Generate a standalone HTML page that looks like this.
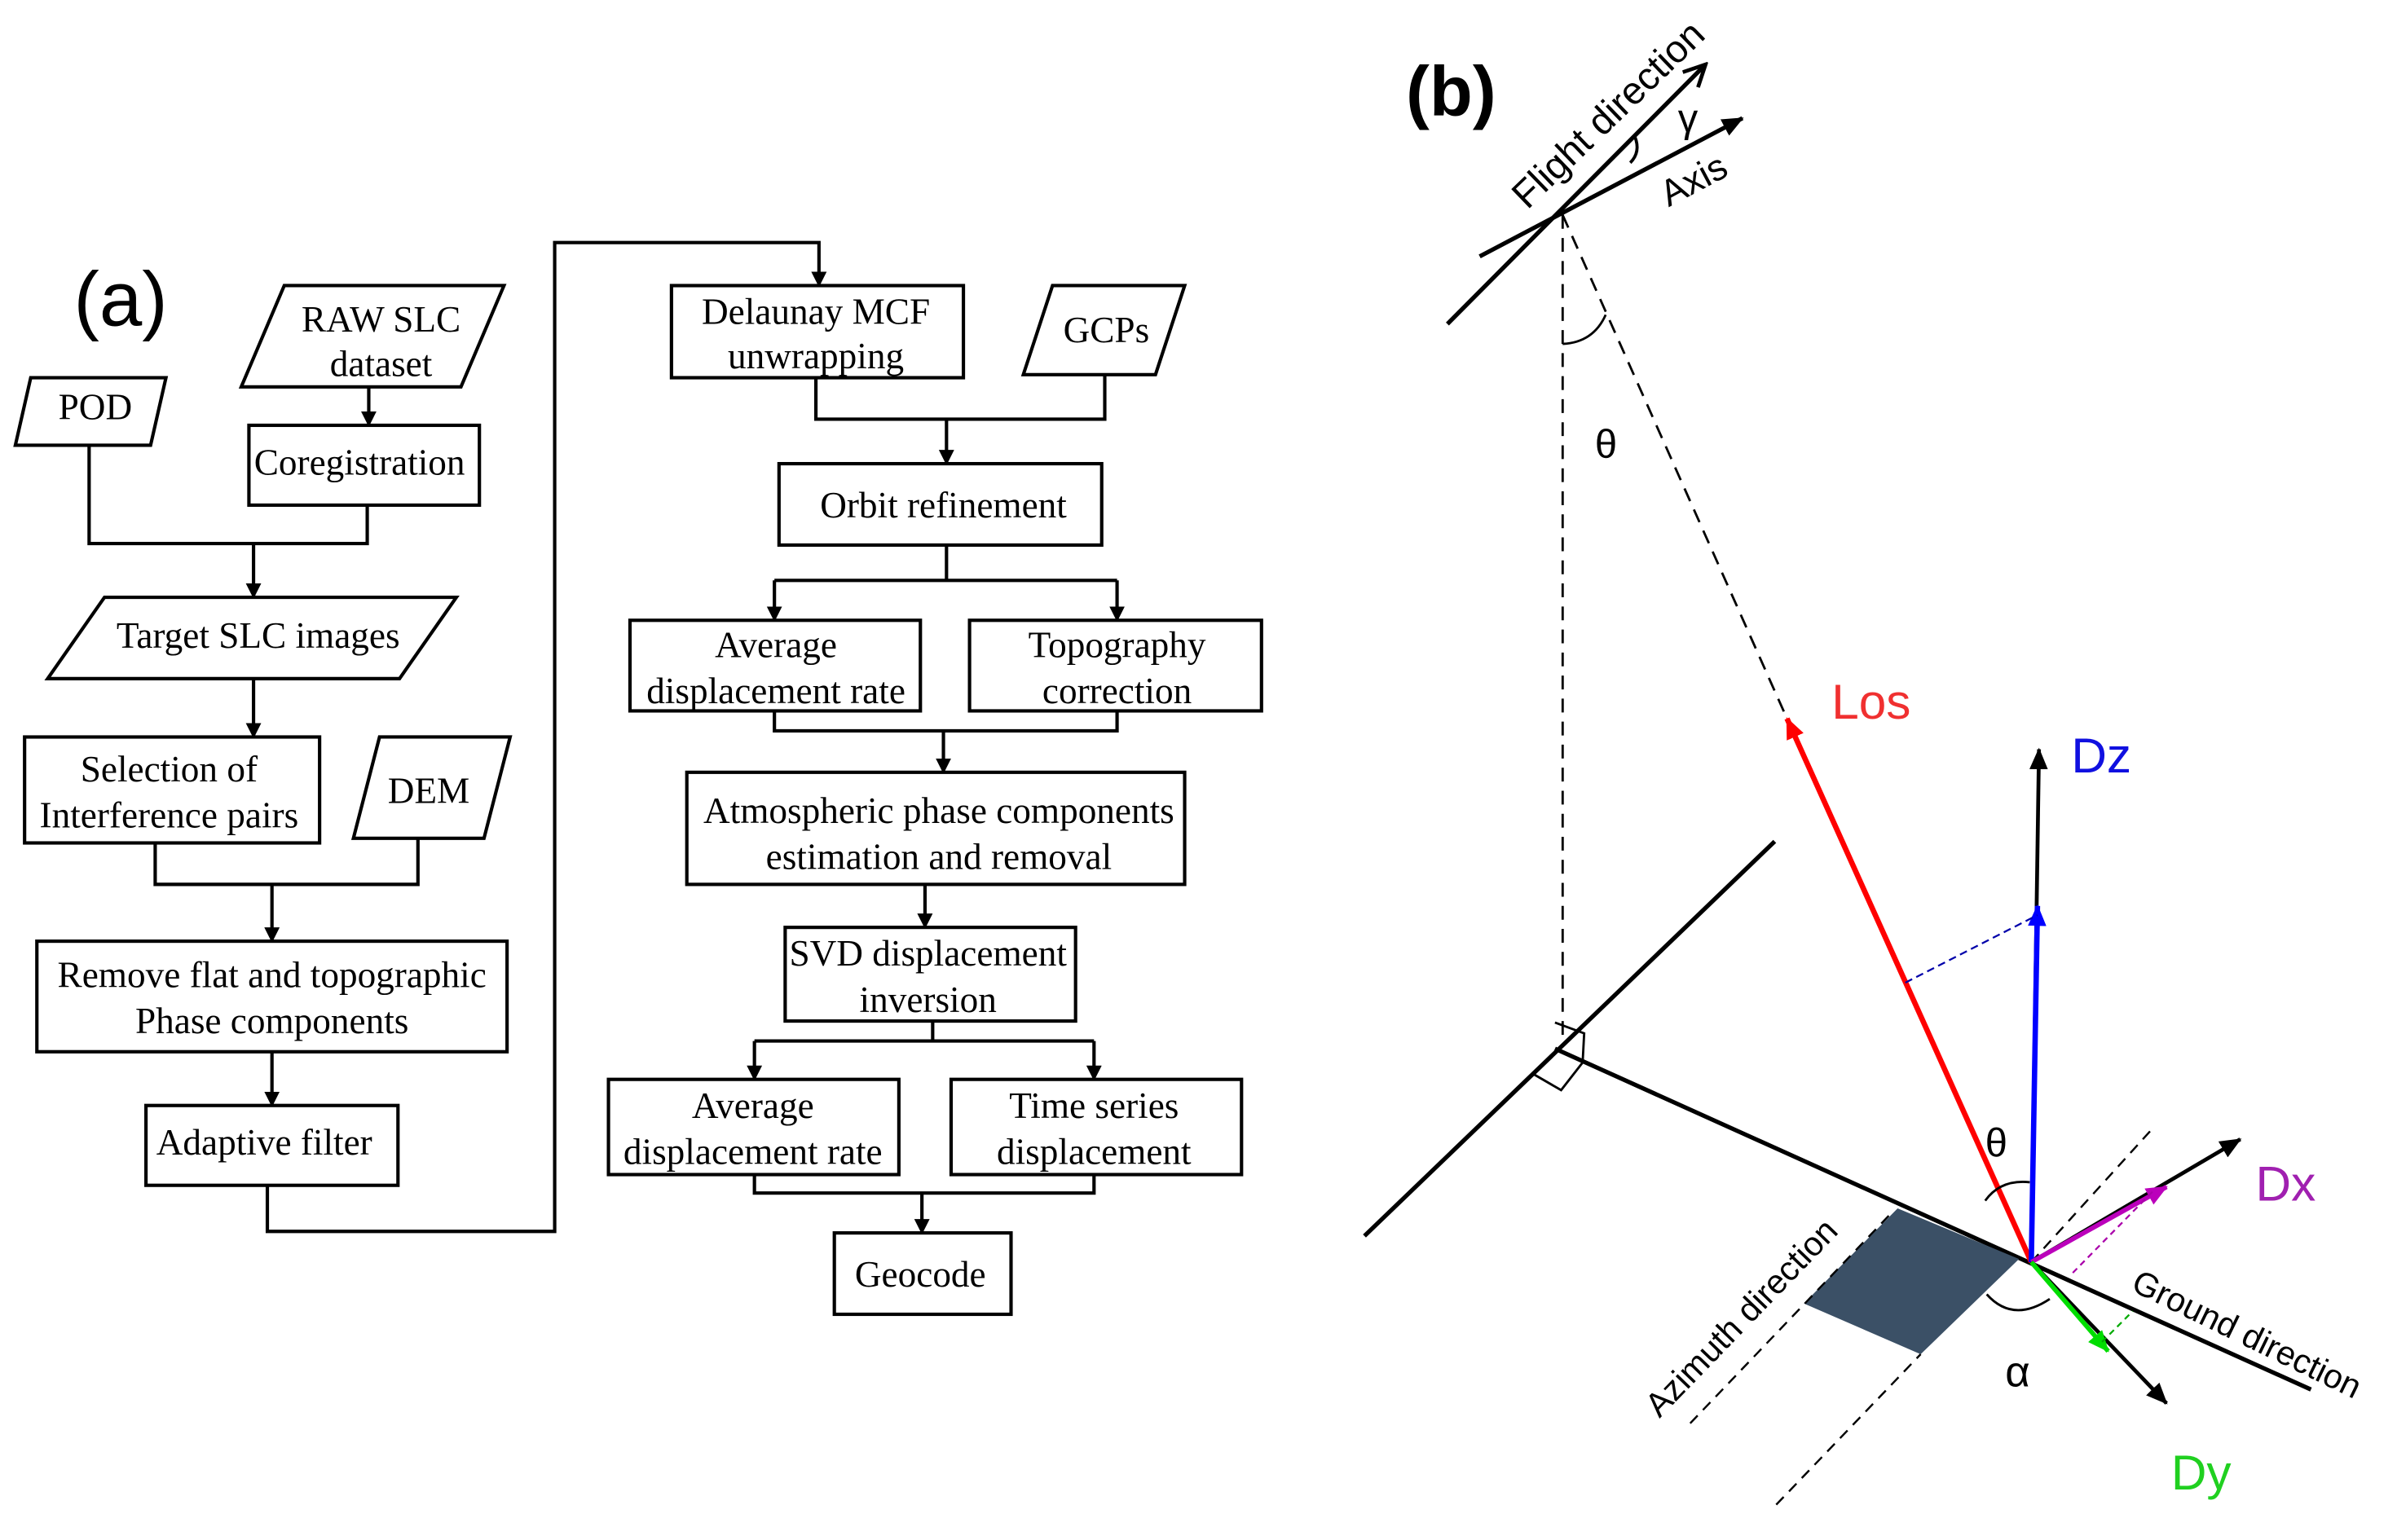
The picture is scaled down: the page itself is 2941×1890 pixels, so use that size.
<!DOCTYPE html>
<html><head><meta charset="utf-8"><style>
html,body{margin:0;padding:0;background:#fff;}
svg{display:block;}
.fc rect,.fc polygon{fill:none;stroke:#000;stroke-width:2.2;}
.fc text{font-family:"Liberation Serif",serif;font-size:24px;text-anchor:middle;fill:#000;}
.ln{fill:none;stroke:#000;stroke-width:2.2;}
.sans{font-family:"Liberation Sans",sans-serif;}
</style></head><body>
<svg width="2941" height="1890" viewBox="0 0 1560 1003" preserveAspectRatio="none" xmlns="http://www.w3.org/2000/svg">
<defs>
<marker id="ah" markerWidth="10" markerHeight="10" refX="9" refY="5" orient="auto" markerUnits="userSpaceOnUse"><path d="M0,0 L10,5 L0,10 Z" fill="#000"/></marker>
<marker id="ab" markerWidth="14" markerHeight="12" refX="13" refY="6" orient="auto" markerUnits="userSpaceOnUse"><path d="M0,0 L14,6 L0,12 Z" fill="#000"/></marker>
<marker id="ao" markerWidth="18" markerHeight="16" refX="16" refY="8" orient="auto" markerUnits="userSpaceOnUse"><path d="M2,1 L16,8 L2,15" fill="none" stroke="#000" stroke-width="2.5"/></marker>
<marker id="ar" markerWidth="14" markerHeight="12" refX="13" refY="6" orient="auto" markerUnits="userSpaceOnUse"><path d="M0,0 L14,6 L0,12 Z" fill="#f00"/></marker>
<marker id="abl" markerWidth="14" markerHeight="12" refX="13" refY="6" orient="auto" markerUnits="userSpaceOnUse"><path d="M0,0 L14,6 L0,12 Z" fill="#00f"/></marker>
<marker id="ap" markerWidth="14" markerHeight="12" refX="13" refY="6" orient="auto" markerUnits="userSpaceOnUse"><path d="M0,0 L14,6 L0,12 Z" fill="#b0b"/></marker>
<marker id="ag" markerWidth="14" markerHeight="12" refX="13" refY="6" orient="auto" markerUnits="userSpaceOnUse"><path d="M0,0 L14,6 L0,12 Z" fill="#0d0"/></marker>
</defs>

<!-- (a) flowchart -->
<text x="48" y="212" class="sans" font-size="50">(a)</text>
<g class="fc">
<polygon points="157,252 185,186 328,186 300,252"/>
<text x="248" y="216">RAW SLC</text><text x="248" y="245">dataset</text>
<polygon points="10,290 20,246 108,246 98,290"/>
<text x="62" y="273">POD</text>
<rect x="162" y="277" width="150" height="52"/>
<text x="234" y="309">Coregistration</text>
<polygon points="31,442 68,389 297,389 260,442"/>
<text x="168" y="422">Target SLC images</text>
<rect x="16" y="480" width="192" height="69"/>
<text x="110" y="509">Selection of</text><text x="110" y="539">Interference pairs</text>
<polygon points="230,546 247,480 332,480 315,546"/>
<text x="279" y="523">DEM</text>
<rect x="24" y="613" width="306" height="72"/>
<text x="177" y="643">Remove flat and topographic</text><text x="177" y="673">Phase components</text>
<rect x="95" y="720" width="164" height="52"/>
<text x="172" y="752">Adaptive filter</text>
<rect x="437" y="186" width="190" height="60"/>
<text x="531" y="211">Delaunay MCF</text><text x="531" y="240">unwrapping</text>
<polygon points="666,244 685,186 771,186 752,244"/>
<text x="720" y="223">GCPs</text>
<rect x="507" y="302" width="210" height="53"/>
<text x="614" y="337">Orbit refinement</text>
<rect x="410" y="404" width="189" height="59"/>
<text x="505" y="428">Average</text><text x="505" y="458">displacement rate</text>
<rect x="631" y="404" width="190" height="59"/>
<text x="727" y="428">Topography</text><text x="727" y="458">correction</text>
<rect x="447" y="503" width="324" height="73"/>
<text x="611" y="536">Atmospheric phase components</text><text x="611" y="566">estimation and removal</text>
<rect x="511" y="604" width="189" height="61"/>
<text x="604" y="629">SVD displacement</text><text x="604" y="659">inversion</text>
<rect x="396" y="703" width="189" height="62"/>
<text x="490" y="728">Average</text><text x="490" y="758">displacement rate</text>
<rect x="619" y="703" width="189" height="62"/>
<text x="712" y="728">Time series</text><text x="712" y="758">displacement</text>
<rect x="543" y="803" width="115" height="53"/>
<text x="599" y="838">Geocode</text>
</g>
<g class="ln">
<path d="M240,252 V277" marker-end="url(#ah)"/>
<path d="M58,290 V354 H239 V329"/>
<path d="M165,354 V389" marker-end="url(#ah)"/>
<path d="M165,442 V480" marker-end="url(#ah)"/>
<path d="M101,549 V576 H272 V546"/>
<path d="M177,576 V613" marker-end="url(#ah)"/>
<path d="M177,685 V720" marker-end="url(#ah)"/>
<path d="M174,772 V802 H361 V158 H533 V186" marker-end="url(#ah)"/>
<path d="M531,246 V273 H719 V244"/>
<path d="M616,273 V302" marker-end="url(#ah)"/>
<path d="M616,355 V378"/><path d="M504,378 H727"/>
<path d="M504,378 V404" marker-end="url(#ah)"/><path d="M727,378 V404" marker-end="url(#ah)"/>
<path d="M504,463 V476 H727 V463"/>
<path d="M614,476 V503" marker-end="url(#ah)"/>
<path d="M602,576 V604" marker-end="url(#ah)"/>
<path d="M607,665 V678"/><path d="M491,678 H712"/>
<path d="M491,678 V703" marker-end="url(#ah)"/><path d="M712,678 V703" marker-end="url(#ah)"/>
<path d="M491,765 V777 H712 V765"/>
<path d="M600,777 V803" marker-end="url(#ah)"/>
</g>

<!-- (b) -->
<text x="915" y="75" class="sans" font-size="46" font-weight="bold">(b)</text>
<g stroke="#000" stroke-width="2.8" fill="none">
<line x1="942" y1="211" x2="1110" y2="42" marker-end="url(#ao)"/>
<line x1="963" y1="167" x2="1134" y2="77" marker-end="url(#ab)"/>
<path d="M1061,106 Q1068,99 1064,89" stroke-width="2"/>
</g>
<text class="sans" font-size="25" transform="translate(994,137) rotate(-44)">Flight direction</text>
<text class="sans" font-size="24" transform="translate(1086,135) rotate(-28)">Axis</text>
<text x="1092" y="86" class="sans" font-size="26">γ</text>
<g stroke="#000" stroke-width="1.5" fill="none" stroke-dasharray="9,6">
<line x1="1017" y1="140" x2="1017" y2="680"/>
<line x1="1017" y1="140" x2="1163" y2="468"/>
</g>
<path d="M1017,224 Q1037,223 1045,205" stroke="#000" stroke-width="1.5" fill="none"/>
<text x="1038" y="298" class="sans" font-size="26">θ</text>
<!-- ground lines -->
<g stroke="#000" stroke-width="2.8">
<line x1="888" y1="805" x2="1155" y2="548"/>
<line x1="1012" y1="683" x2="1504" y2="905"/>
</g>
<g fill="none" stroke="#000" stroke-width="1.5">
<polyline points="1012,666 1031,673 1030,692"/>
<polyline points="997,699 1016,710 1030,692"/>
</g>
<polygon points="1235,787 1174,849 1250,882 1314,820" fill="#3b5066"/>
<g stroke="#000" stroke-width="1.3" stroke-dasharray="7,5" fill="none">
<line x1="1100" y1="927" x2="1230" y2="791"/>
<line x1="1156" y1="980" x2="1250" y2="882"/>
<line x1="1322" y1="822" x2="1400" y2="736"/>
</g>
<line x1="1322" y1="822" x2="1163" y2="468" stroke="#f00" stroke-width="3.5" marker-end="url(#ar)"/>
<text x="1192" y="468" class="sans" font-size="32" fill="#f03030">Los</text>
<line x1="1322" y1="822" x2="1327" y2="488" stroke="#000" stroke-width="2.5" marker-end="url(#ab)"/>
<line x1="1322" y1="822" x2="1326" y2="590" stroke="#00f" stroke-width="3.5" marker-end="url(#abl)"/>
<line x1="1240" y1="640" x2="1326" y2="596" stroke="#00a" stroke-width="1.2" stroke-dasharray="5,3"/>
<text x="1348" y="503" class="sans" font-size="32" fill="#1010e0">Dz</text>
<line x1="1322" y1="822" x2="1458" y2="742" stroke="#000" stroke-width="2.5" marker-end="url(#ab)"/>
<line x1="1322" y1="822" x2="1410" y2="773" stroke="#b0b" stroke-width="3" marker-end="url(#ap)"/>
<line x1="1349" y1="829" x2="1403" y2="774" stroke="#a0a" stroke-width="1.2" stroke-dasharray="4,3"/>
<text x="1468" y="782" class="sans" font-size="32" fill="#a020b0">Dx</text>
<line x1="1322" y1="822" x2="1410" y2="914" stroke="#000" stroke-width="2.5" marker-end="url(#ab)"/>
<line x1="1322" y1="822" x2="1372" y2="880" stroke="#0d0" stroke-width="3" marker-end="url(#ag)"/>
<line x1="1368" y1="874" x2="1388" y2="854" stroke="#0a0" stroke-width="1.2" stroke-dasharray="4,3"/>
<text x="1413" y="970" class="sans" font-size="32" fill="#20d020">Dy</text>
<text x="1292" y="753" class="sans" font-size="26">θ</text>
<path d="M1292,782 Q1302,768 1321,770" stroke="#000" stroke-width="1.5" fill="none"/>
<text x="1305" y="903" class="sans" font-size="28">α</text>
<path d="M1293,843 Q1310,862 1334,846" stroke="#000" stroke-width="1.5" fill="none"/>
<text class="sans" font-size="22" transform="translate(1386,840) rotate(26)">Ground direction</text>
<text class="sans" font-size="22" transform="translate(1080,924) rotate(-46)">Azimuth direction</text>
</svg>
</body></html>
